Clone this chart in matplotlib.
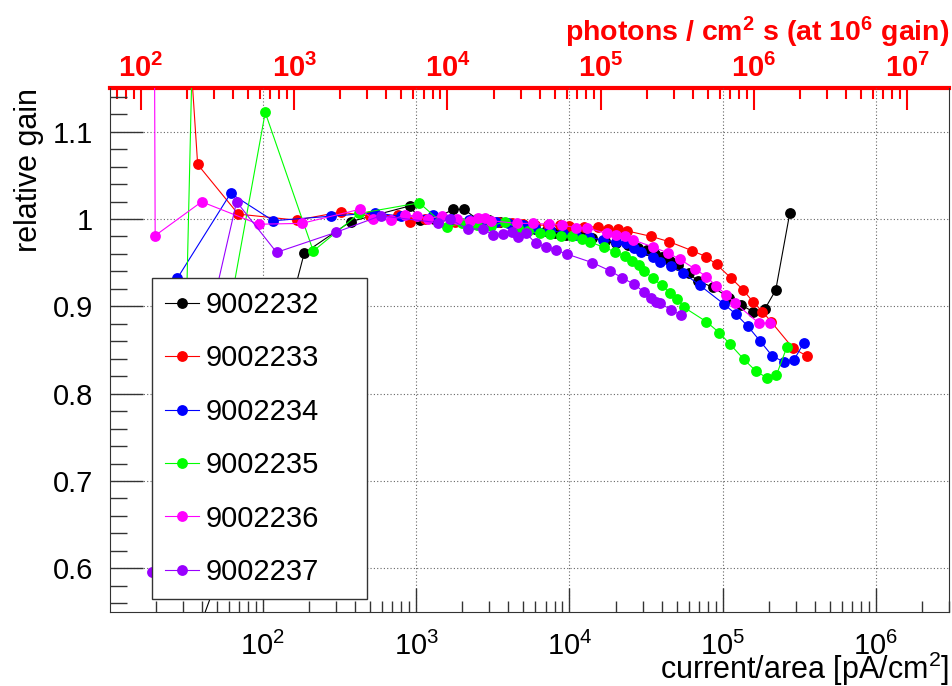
import numpy as np
import matplotlib
matplotlib.use("Agg")
import matplotlib.pyplot as plt
from matplotlib.ticker import FixedLocator, LogLocator, MultipleLocator, FuncFormatter, NullFormatter

plt.rcParams['font.family'] = ['Liberation Sans', 'DejaVu Sans']
plt.rcParams['mathtext.fontset'] = 'custom'
plt.rcParams['mathtext.rm'] = 'Liberation Sans'
plt.rcParams['mathtext.it'] = 'Liberation Sans:italic'
plt.rcParams['mathtext.bf'] = 'Liberation Sans:bold'

# current/area [pA/cm^2] and relative gain
cur_9002232 = [26, 56, 186, 373, 910, 1060, 1300, 1750, 2050, 2500, 3000, 3500, 4200, 5000,
               6000, 7000, 8000, 9500, 12000, 14000, 17000, 20000, 24000, 28000, 32000,
               36000, 40000, 45000, 51000, 60000, 69000, 86000, 110000, 132000, 158000,
               188000, 222000, 274000]
gain_9002232 = [0.45, 0.61, 0.961, 0.997, 1.015, 0.999, 1.0, 1.011, 1.011, 1.0, 0.999, 0.997,
                0.994, 0.99, 0.988, 0.986, 0.984, 0.982, 0.98, 0.978, 0.975, 0.972, 0.97,
                0.967, 0.964, 0.96, 0.957, 0.952, 0.947, 0.938, 0.929, 0.922, 0.91, 0.9015,
                0.894, 0.8966, 0.9186, 1.0064]

cur_9002233 = [25.7, 37.5, 69, 166, 321, 500, 764, 910, 1150, 1400, 1800, 2300, 2800, 3400,
               4200, 5000, 6000, 7200, 8650, 10000, 12500, 15400, 17900, 20800, 23600, 34300,
               44800, 63500, 77600, 91200, 114000, 135800, 157800, 181800, 208000, 288000,
               355600]
gain_9002233 = [1.5, 1.0625, 1.0056, 0.9987, 1.008, 1.003, 1.0045, 0.997, 1.0, 1.0, 0.996,
                0.997, 0.995, 0.996, 0.995, 0.994, 0.993, 0.993, 0.993, 0.992, 0.991, 0.991,
                0.989, 0.988, 0.9865, 0.98, 0.974, 0.9636, 0.957, 0.948, 0.932, 0.919, 0.905,
                0.894, 0.882, 0.852, 0.843]

cur_9002234 = [27.6, 61.5, 116.7, 280, 538, 800, 1290, 1700, 2200, 2700, 3340, 4000, 5000,
               6000, 7500, 9100, 11000, 13500, 16500, 20000, 23560, 26500, 29500, 35000,
               38900, 46000, 55200, 71000, 101900, 122000, 145500, 176000, 211000, 250000,
               292000, 338000]
gain_9002234 = [0.932, 1.0293, 0.998, 1.0033, 1.007, 1.003, 1.0045, 1.0, 0.999, 0.998, 0.997,
                0.995, 0.993, 0.99, 0.987, 0.984, 0.982, 0.979, 0.976, 0.974, 0.972, 0.967,
                0.9625, 0.957, 0.951, 0.946, 0.9384, 0.924, 0.9026, 0.891, 0.8775, 0.86,
                0.843, 0.8366, 0.8386, 0.858]

cur_9002235 = [38, 28.8, 103.5, 213, 425, 1047, 1578, 2000, 2500, 3100, 3780, 4600, 5400,
               6400, 7500, 8800, 10330, 12000, 13600, 16750, 19800, 23000, 25800, 28500,
               30600, 35150, 39900, 45200, 50500, 55800, 78300, 94800, 111300, 137400,
               164500, 195000, 224500, 263000]
gain_9002235 = [1.5, 0.584, 1.122, 0.9633, 1.0064, 1.0185, 0.991, 0.995, 0.993, 0.992, 0.997,
                0.99, 0.986, 0.9835, 0.983, 0.981, 0.98, 0.977, 0.974, 0.9675, 0.9625, 0.9575,
                0.952, 0.947, 0.941, 0.932, 0.924, 0.9156, 0.908, 0.899, 0.8824, 0.87, 0.857,
                0.8394, 0.826, 0.818, 0.8214, 0.8538]

cur_9002236 = [18.9, 19.8, 39.8, 93.7, 179.6, 433, 520, 681, 844, 1006, 1199, 1466, 1836,
               2240, 2537, 2805, 3100, 4520, 5800, 7380, 8880, 11120, 12930, 17460, 20290,
               22970, 26050, 35150, 44040, 52500, 65760, 78400, 91150, 105900, 120000,
               173000, 205000]
gain_9002236 = [2.0, 0.981, 1.0197, 0.994, 0.995, 1.0113, 1.0, 0.9987, 1.0045, 1.003, 1.0,
                1.004, 1.0, 0.998, 1.001, 1.001, 0.998, 0.995, 0.995, 0.994, 0.993, 0.99,
                0.99, 0.9835, 0.9816, 0.98, 0.976, 0.968, 0.961, 0.954, 0.943, 0.934, 0.923,
                0.913, 0.904, 0.8805, 0.881]

cur_9002237 = [18.8, 67.3, 122.8, 299, 586, 1393, 1660, 2184, 2710, 3180, 3700, 4190, 4630,
               5200, 6040, 7020, 8160, 9580, 14130, 18350, 21900, 26300, 30550, 34300, 36700,
               39200, 46300, 53300]
gain_9002237 = [0.596, 1.0197, 0.9618, 0.9847, 1.0037, 0.9957, 1.0, 0.988, 0.989, 0.9816,
                0.983, 0.9854, 0.979, 0.984, 0.972, 0.968, 0.9644, 0.96, 0.95, 0.9408, 0.933,
                0.9255, 0.9167, 0.91, 0.905, 0.9034, 0.8958, 0.89]

labels = ["9002232", "9002233", "9002234", "9002235", "9002236", "9002237"]
colors = ["#000000", "#ff0000", "#0000ff", "#00ff00", "#ff00ff", "#9900ff"]
currents = [cur_9002232, cur_9002233, cur_9002234, cur_9002235, cur_9002236, cur_9002237]
gains = [gain_9002232, gain_9002233, gain_9002234, gain_9002235, gain_9002236, gain_9002237]

bottom_ticks = [1e2, 1e3, 1e4, 1e5, 1e6]
top_ticks = [1e2, 1e3, 1e4, 1e5, 1e6, 1e7]

# pA/cm^2 -> photons/cm^2 s at gain 1e6
photons_per_pA = 6.25

fig = plt.figure(figsize=(9.53, 6.86), dpi=100)
ax = fig.add_axes([109.7 / 953, 74 / 686, (949 - 109.7) / 953, (612 - 88) / 686])

for x, y, c, lab in zip(currents, gains, colors, labels):
    ax.plot(x, y, "-o", color=c, lw=0.8, ms=7.8, mew=0, label=lab)

ax.set_xscale("log")
ax.set_xlim(10, 3e6)
ax.set_ylim(0.55, 1.15)

ax.yaxis.set_major_locator(MultipleLocator(0.1))
ax.yaxis.set_minor_locator(MultipleLocator(0.02))
ax.yaxis.set_major_formatter(FuncFormatter(lambda v, p: "%g" % round(v, 2)))
ax.xaxis.set_major_locator(FixedLocator(bottom_ticks))
ax.xaxis.set_minor_locator(LogLocator(base=10, subs=np.arange(2, 10), numticks=20))
ax.xaxis.set_minor_formatter(NullFormatter())
ax.xaxis.set_major_formatter(FuncFormatter(lambda v, p: r"$10^{%d}$" % round(np.log10(v))))

ax.tick_params(axis="y", which="major", direction="in", length=24, width=1, labelsize=21, pad=12)
ax.tick_params(axis="y", which="minor", direction="in", length=12, width=1)
ax.tick_params(axis="x", which="major", direction="in", length=17, width=1, labelsize=21, pad=14)
ax.tick_params(axis="x", which="minor", direction="in", length=8, width=1)
ax.tick_params(which="both", color="#333333", top=False, right=False)

ax.grid(True, which="major", color="#666666", linestyle=(0, (1, 2)), lw=0.8)
for s in ["left", "bottom", "right"]:
    ax.spines[s].set_color("#333333")
ax.spines["top"].set_visible(False)

ax.set_xlabel(r"current/area [pA/cm$^{2}$]", loc="right", fontsize=22, labelpad=-8)
ax.set_ylabel("relative gain", loc="top", fontsize=22, labelpad=6)

top = ax.secondary_xaxis("top", functions=(lambda v: v * photons_per_pA,
                                           lambda v: v / photons_per_pA))
top.xaxis.set_major_locator(FixedLocator(top_ticks))
top.xaxis.set_minor_locator(LogLocator(base=10, subs=np.arange(2, 10), numticks=20))
top.xaxis.set_minor_formatter(NullFormatter())
top.xaxis.set_major_formatter(FuncFormatter(lambda v, p: r"$\mathbf{10^{%d}}$" % round(np.log10(v))))
top.tick_params(which="major", direction="in", length=16, width=1.5, colors="red",
                labelsize=21, pad=3.5)
top.tick_params(which="minor", direction="in", length=8, width=1.5, colors="red")
top.spines["top"].set_color("red")
top.spines["top"].set_linewidth(3)
top.set_xlabel(r"photons / cm$^{\mathbf{2}}$ s (at 10$^{\mathbf{6}}$ gain)", loc="right",
               color="red", fontsize=20.5, fontweight="bold", labelpad=9)

leg = ax.legend(loc="upper left", bbox_to_anchor=(152 / 953, (686 - 598) / 686, 215 / 953, 320 / 686),
                bbox_transform=fig.transFigure, mode="expand", borderaxespad=0, fontsize=21,
                fancybox=False, edgecolor="#333333", framealpha=1,
                handlelength=1.15, handletextpad=0.25, labelspacing=0.87, borderpad=0.45)
leg.get_frame().set_linewidth(1)

fig.savefig("out.png", dpi=100)
